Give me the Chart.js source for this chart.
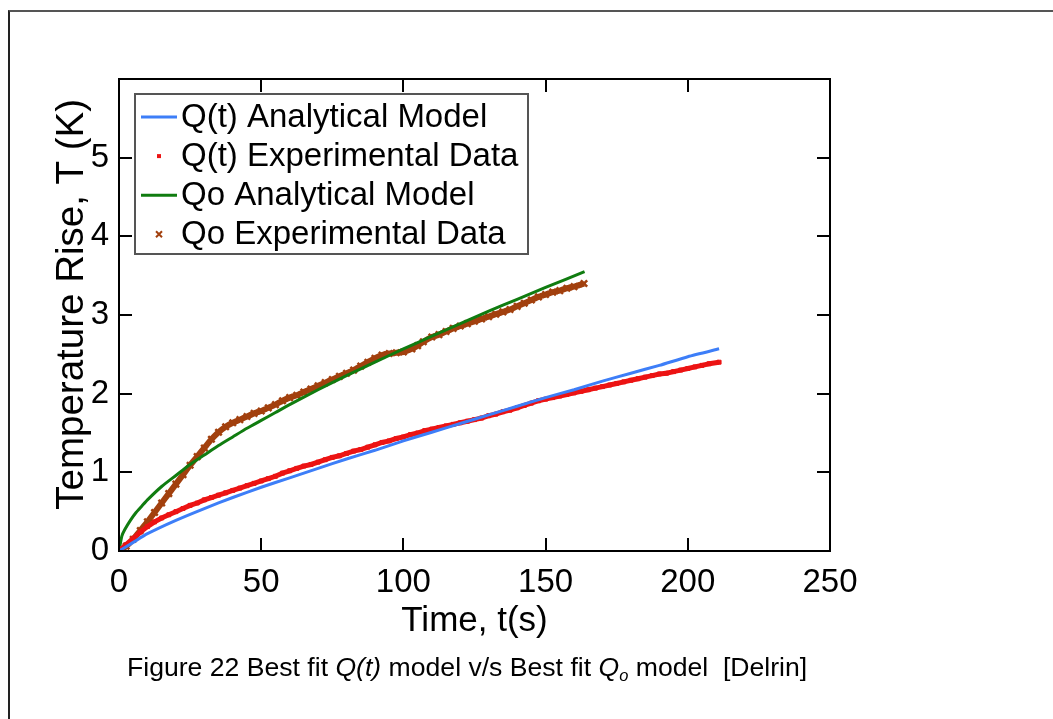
<!DOCTYPE html>
<html><head><meta charset="utf-8">
<script src="https://cdn.jsdelivr.net/npm/chart.js@4.4.1/dist/chart.umd.min.js"></script>
<style>
html,body{margin:0;padding:0;background:#fff;width:1053px;height:719px;overflow:hidden;}
#frame{position:absolute;left:8px;top:10px;width:1100px;height:800px;border-left:2px solid #222;border-top:2px solid #555;box-sizing:border-box;}
#wrap{position:absolute;left:0;top:0;width:1053px;height:719px;}
#cap{position:absolute;left:127px;top:652px;font-family:'Liberation Sans',Arial,sans-serif;font-size:26.6px;line-height:30px;color:#000;white-space:pre;}
#cap sub{font-size:0.62em;vertical-align:-0.3em;}
</style></head>
<body>
<div id="frame"></div>
<div id="wrap"><canvas id="c" width="1053" height="719"></canvas></div>
<div id="cap">Figure 22 Best fit <i>Q(t)</i> model v/s Best fit <i>Q<sub>o</sub></i> model  [Delrin]</div>
<script>
// ---- data ----
const xTicks = [0, 50, 100, 150, 200, 250];
const yTicks = [0, 1, 2, 3, 4, 5];

const qtModelTime = [0, 5, 10, 20, 30, 40, 50, 60, 70, 80, 90, 100, 110, 120, 130, 140, 150, 160, 170, 180, 190, 200, 211];
const qtModelTemp = [0, 0.11, 0.22, 0.39, 0.54, 0.68, 0.81, 0.93, 1.05, 1.17, 1.28, 1.40, 1.51, 1.62, 1.73, 1.84, 1.95, 2.05, 2.16, 2.26, 2.36, 2.47, 2.57];

const qtDataTime = [0, 1, 2.5, 5, 7.5, 10, 12.5, 15, 17.5, 20, 22.5, 25, 27.5, 30, 32.5, 35, 37.5, 40, 42.5, 45, 47.5, 50, 52.5, 55, 57.5, 60, 62.5, 65, 67.5, 70, 72.5, 75, 77.5, 80, 82.5, 85, 87.5, 90, 92.5, 95, 97.5, 100, 102.5, 105, 107.5, 110, 112.5, 115, 117.5, 120, 122.5, 125, 127.5, 130, 132.5, 135, 137.5, 140, 142.5, 145, 147.5, 150, 152.5, 155, 157.5, 160, 162.5, 165, 167.5, 170, 172.5, 175, 177.5, 180, 182.5, 185, 187.5, 190, 192.5, 195, 197.5, 200, 202.5, 205, 207.5, 211];
const qtDataTemp = [0, 0.03, 0.08, 0.16, 0.24, 0.31, 0.37, 0.42, 0.46, 0.50, 0.54, 0.58, 0.61, 0.65, 0.68, 0.71, 0.74, 0.77, 0.80, 0.83, 0.86, 0.89, 0.92, 0.95, 0.99, 1.02, 1.05, 1.08, 1.10, 1.13, 1.16, 1.19, 1.21, 1.24, 1.27, 1.29, 1.32, 1.35, 1.38, 1.40, 1.43, 1.45, 1.48, 1.50, 1.53, 1.55, 1.57, 1.59, 1.61, 1.63, 1.65, 1.67, 1.69, 1.72, 1.74, 1.77, 1.79, 1.82, 1.85, 1.88, 1.91, 1.93, 1.95, 1.97, 1.99, 2.01, 2.03, 2.05, 2.07, 2.09, 2.11, 2.13, 2.15, 2.17, 2.19, 2.21, 2.23, 2.25, 2.26, 2.28, 2.30, 2.32, 2.34, 2.36, 2.38, 2.40];

const qoModelTime = [0, 1, 2, 4, 6, 8, 10, 15, 20, 25, 30, 35, 40, 45, 50, 55, 60, 70, 80, 90, 100, 110, 120, 130, 140, 150, 163.7];
const qoModelTemp = [0, 0.19, 0.27, 0.39, 0.49, 0.57, 0.65, 0.82, 0.96, 1.10, 1.22, 1.34, 1.45, 1.56, 1.66, 1.76, 1.86, 2.05, 2.23, 2.40, 2.57, 2.73, 2.89, 3.05, 3.20, 3.35, 3.55];

const qoDataTime = [0, 2.5, 5, 7.5, 10, 12.5, 15, 17.5, 20, 22.5, 25, 27.5, 30, 32.5, 35, 37.5, 40, 42.5, 45, 47.5, 50, 52.5, 55, 57.5, 60, 62.5, 65, 67.5, 70, 72.5, 75, 77.5, 80, 82.5, 85, 87.5, 90, 92.5, 95, 97.5, 100, 103, 105, 107, 110, 112.5, 115, 117.5, 120, 122.5, 125, 127.5, 130, 132.5, 135, 137.5, 140, 142.5, 145, 147.5, 150, 152.5, 155, 157.5, 160, 163.5];
const qoDataTemp = [0, 0.06, 0.15, 0.26, 0.37, 0.49, 0.61, 0.73, 0.85, 0.97, 1.09, 1.20, 1.31, 1.42, 1.51, 1.58, 1.63, 1.67, 1.71, 1.75, 1.78, 1.82, 1.86, 1.91, 1.95, 1.98, 2.02, 2.06, 2.10, 2.14, 2.18, 2.22, 2.26, 2.30, 2.35, 2.40, 2.45, 2.49, 2.51, 2.52, 2.53, 2.57, 2.61, 2.66, 2.72, 2.75, 2.79, 2.83, 2.86, 2.89, 2.92, 2.95, 2.98, 3.01, 3.04, 3.07, 3.11, 3.15, 3.19, 3.23, 3.26, 3.29, 3.31, 3.34, 3.36, 3.40];

const seriesLabels = ['Q(t) Analytical Model', 'Q(t) Experimental Data', 'Qo Analytical Model', 'Qo Experimental Data'];
const xTitle = 'Time, t(s)';
const yTitle = '\u00a0\u00a0Temperature Rise, T (K)';

// ---- styling ----
const C_BLUE = '#3d7ef8', C_RED = '#ec1414', C_GREEN = '#107c10', C_BROWN = '#a2400e';
const FONT = "'Liberation Sans', Arial, sans-serif";

function pts(xs, ys) { return xs.map((x, i) => ({x: x, y: ys[i]})); }

const frameAndTicks = {
  id: 'frameAndTicks',
  afterDatasetsDraw(chart) {
    const {ctx, chartArea: a, scales: {x, y}} = chart;
    ctx.save();
    ctx.strokeStyle = '#000';
    ctx.lineWidth = 2;
    const L = 13;
    ctx.beginPath();
    xTicks.forEach(v => {
      if (v === 0 || v === 250) return;
      const px = Math.round(x.getPixelForValue(v));
      ctx.moveTo(px, a.bottom); ctx.lineTo(px, a.bottom - L);
      ctx.moveTo(px, a.top); ctx.lineTo(px, a.top + L);
    });
    yTicks.forEach(v => {
      if (v === 0) return;
      const py = Math.round(y.getPixelForValue(v));
      ctx.moveTo(a.left, py); ctx.lineTo(a.left + L, py);
      ctx.moveTo(a.right, py); ctx.lineTo(a.right - L, py);
    });
    ctx.stroke();
    ctx.strokeRect(a.left, a.top, a.right - a.left, a.bottom - a.top);
    ctx.restore();
  }
};

const boxLegend = {
  id: 'boxLegend',
  afterDraw(chart) {
    const {ctx, chartArea: a} = chart;
    const bx = a.left + 16, by = a.top + 15, bw = 393, bh = 160;
    ctx.save();
    ctx.fillStyle = '#fff';
    ctx.fillRect(bx, by, bw, bh);
    ctx.strokeStyle = '#555';
    ctx.lineWidth = 2;
    ctx.strokeRect(bx, by, bw, bh);
    ctx.font = '33px ' + FONT;
    ctx.textBaseline = 'middle';
    chart.data.datasets.forEach((ds, i) => {
      const cy = by + 23 + i * 39.1;
      if (ds.legendKind === 'line') {
        ctx.strokeStyle = ds.borderColor;
        ctx.lineWidth = 3;
        ctx.beginPath();
        ctx.moveTo(bx + 6, cy); ctx.lineTo(bx + 42, cy);
        ctx.stroke();
      } else {
        const cx = bx + 24;
        ctx.strokeStyle = ds.pointBorderColor;
        ctx.fillStyle = ds.pointBorderColor;
        if (ds.pointStyle === 'rect') {
          ctx.fillRect(cx - 2, cy - 2, 4, 4);
        } else {
          ctx.lineWidth = 2;
          ctx.beginPath();
          ctx.moveTo(cx - 3, cy - 3); ctx.lineTo(cx + 3, cy + 3);
          ctx.moveTo(cx + 3, cy - 3); ctx.lineTo(cx - 3, cy + 3);
          ctx.stroke();
        }
      }
      ctx.fillStyle = '#000';
      ctx.fillText(ds.label, bx + 46, cy + 1);
    });
    ctx.restore();
  }
};

new Chart(document.getElementById('c'), {
  type: 'scatter',
  data: {
    datasets: [
      { label: seriesLabels[0], legendKind: 'line', data: pts(qtModelTime, qtModelTemp), showLine: true, borderColor: C_BLUE, borderWidth: 3, pointRadius: 0, order: 1, tension: 0.2 },
      { label: seriesLabels[1], legendKind: 'marker', data: pts(qtDataTime, qtDataTemp), showLine: true, borderWidth: 5, pointStyle: 'rect', pointRadius: 2.8, pointBorderWidth: 1, pointBorderColor: C_RED, pointBackgroundColor: C_RED, borderColor: C_RED, backgroundColor: C_RED, order: 2 },
      { label: seriesLabels[2], legendKind: 'line', data: pts(qoModelTime, qoModelTemp), showLine: true, borderColor: C_GREEN, borderWidth: 3, pointRadius: 0, order: 3, tension: 0.2 },
      { label: seriesLabels[3], legendKind: 'marker', data: pts(qoDataTime, qoDataTemp), showLine: true, borderWidth: 6, tension: 0.2, pointStyle: 'crossRot', pointRadius: 4.5, pointBorderWidth: 2.5, pointBorderColor: C_BROWN, pointBackgroundColor: C_BROWN, borderColor: C_BROWN, backgroundColor: C_BROWN, order: 4 }
    ]
  },
  options: {
    responsive: false,
    animation: false,
    devicePixelRatio: 1,
    layout: { padding: { left: 0, top: 79, right: 223, bottom: 68 } },
    plugins: { legend: { display: false }, tooltip: { enabled: false } },
    scales: {
      x: {
        type: 'linear', min: 0, max: 250,
        afterFit(s) { s.height = 100; },
        afterBuildTicks(s) { s.ticks = xTicks.map(v => ({value: v})); },
        grid: { display: false, drawTicks: false },
        border: { display: false },
        ticks: { color: '#000', font: { family: FONT, size: 33 }, padding: 12, maxRotation: 0 },
        title: { display: true, text: xTitle, color: '#000', font: { family: FONT, size: 35 }, padding: { top: 0, bottom: 9 } }
      },
      y: {
        type: 'linear', min: 0, max: 6,
        afterFit(s) { s.width = 119; },
        afterBuildTicks(s) { s.ticks = yTicks.map(v => ({value: v})); },
        grid: { display: false, drawTicks: false },
        border: { display: false },
        ticks: { color: '#000', font: { family: FONT, size: 33 }, padding: 10 },
        title: { display: true, text: yTitle, color: '#000', font: { family: FONT, size: 38.5 }, padding: { top: 49, bottom: 0 } }
      }
    }
  },
  plugins: [frameAndTicks, boxLegend]
});
</script>
</body></html>
